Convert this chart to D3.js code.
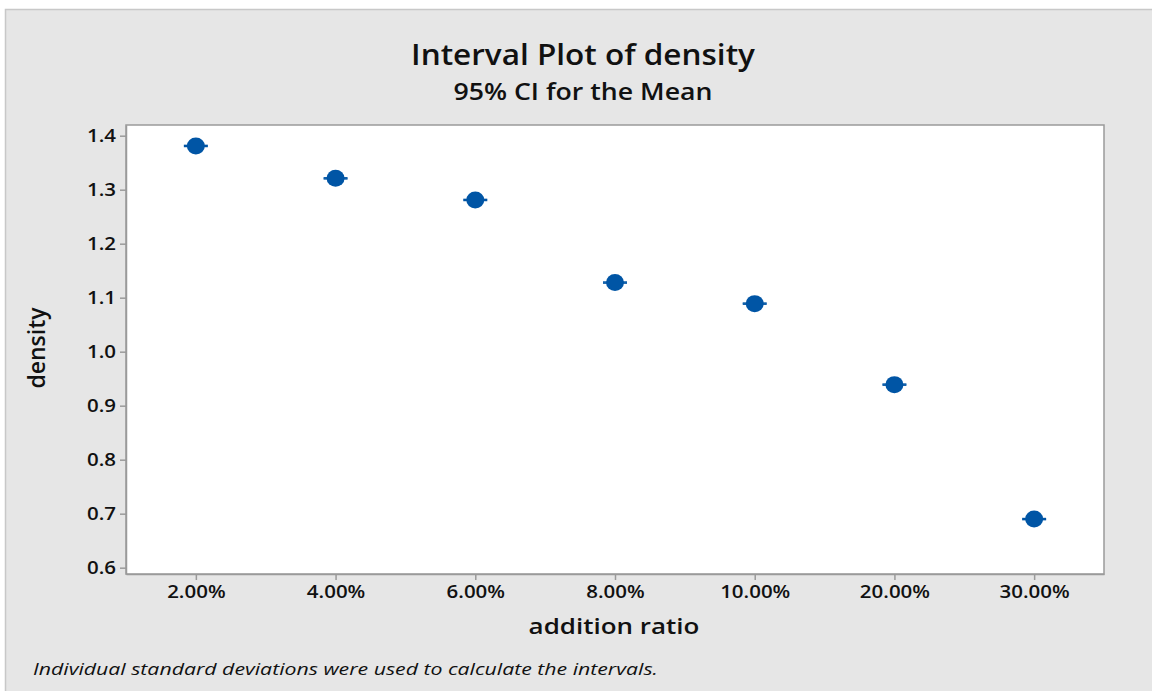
<!DOCTYPE html>
<html><head><meta charset="utf-8">
<script src="https://cdn.jsdelivr.net/npm/d3@7"></script>
<style>body{margin:0;background:#fff}svg{display:block}</style>
</head><body>
<svg id="c" width="1152" height="691"></svg>
<script>
const categories = ["2.00%","4.00%","6.00%","8.00%","10.00%","20.00%","30.00%"];
const means = [1.381, 1.321, 1.281, 1.128, 1.089, 0.939, 0.690];
const ciHalf = [0.001, 0.001, 0.001, 0.001, 0.001, 0.001, 0.001];
const yTicks = [0.6, 0.7, 0.8, 0.9, 1.0, 1.1, 1.2, 1.3, 1.4];

const W = 1152, H = 691;
const svg = d3.select("#c");
const font = "'Open Sans','Noto Sans',sans-serif";
const plot = {l:126, t:125, r:1104, b:574};
const blue = "#0055a5", axisCol = "#9a9a9a";

function stretch(sel, f){
  sel.each(function(){
    const len = this.getComputedTextLength();
    d3.select(this).attr("textLength", len*f).attr("lengthAdjust","spacingAndGlyphs");
  });
}

svg.append("rect").attr("x",5.5).attr("y",9.5).attr("width",W).attr("height",H)
  .attr("fill","#e6e6e6").attr("stroke","#c8c8c8").attr("stroke-width",1.5);

const x = d3.scalePoint().domain(categories).range([plot.l, plot.r]).padding(0.5);
const y = d3.scaleLinear().domain([0.5883, 1.4198]).range([plot.b, plot.t]);

svg.append("rect").attr("x",plot.l).attr("y",plot.t).attr("width",plot.r-plot.l).attr("height",plot.b-plot.t)
  .attr("fill","#fff").attr("stroke",axisCol).attr("stroke-width",1.5);

const yAxis = svg.append("g").attr("transform",`translate(${plot.l},0)`)
  .call(d3.axisLeft(y).tickValues(yTicks).tickFormat(d3.format(".1f")).tickSize(6).tickSizeOuter(0).tickPadding(4));
const xAxis = svg.append("g").attr("transform",`translate(0,${plot.b})`)
  .call(d3.axisBottom(x).tickSize(6).tickSizeOuter(0).tickPadding(6));
[yAxis,xAxis].forEach(g=>{
  g.select(".domain").attr("stroke",axisCol).attr("stroke-width",1.5);
  g.selectAll(".tick line").attr("stroke",axisCol).attr("stroke-width",1.5);
  g.selectAll(".tick text").attr("fill","#111").attr("font-family",font)
    .attr("font-size",17.5).attr("font-weight",600);
  stretch(g.selectAll(".tick text"), 1.17);
});
yAxis.selectAll(".tick text").attr("dy","0.35em");

const g = svg.append("g");
categories.forEach((c,i)=>{
  const cx = x(c);
  const lo = y(means[i]-ciHalf[i]), hi = y(means[i]+ciHalf[i]);
  g.append("line").attr("x1",cx).attr("x2",cx).attr("y1",lo).attr("y2",hi).attr("stroke",blue).attr("stroke-width",1.5);
  [lo,hi].forEach(yy=>g.append("line").attr("x1",cx-12).attr("x2",cx+12).attr("y1",yy).attr("y2",yy)
    .attr("stroke",blue).attr("stroke-width",1.5));
  g.append("ellipse").attr("cx",cx).attr("cy",y(means[i])).attr("rx",9).attr("ry",8.5).attr("fill",blue);
});

const t1 = svg.append("text").attr("x",583).attr("y",65).attr("text-anchor","middle")
  .attr("font-family",font).attr("font-size",28).attr("font-weight",600).attr("fill","#111")
  .text("Interval Plot of density");
stretch(t1, 1.125);
const t2 = svg.append("text").attr("x",583).attr("y",100).attr("text-anchor","middle")
  .attr("font-family",font).attr("font-size",23).attr("font-weight",600).attr("fill","#111")
  .text("95% CI for the Mean");
stretch(t2, 1.16);
const t3 = svg.append("text").attr("transform","translate(45,348) rotate(-90)").attr("text-anchor","middle")
  .attr("font-family",font).attr("font-size",23).attr("font-weight",600).attr("fill","#111")
  .text("density");
const t4 = svg.append("text").attr("x",614).attr("y",634).attr("text-anchor","middle")
  .attr("font-family",font).attr("font-size",22).attr("font-weight",600).attr("fill","#111")
  .text("addition ratio");
stretch(t4, 1.18);
const t5 = svg.append("text").attr("x",33).attr("y",675)
  .attr("font-family",font).attr("font-size",17).attr("font-style","italic").attr("fill","#111")
  .text("Individual standard deviations were used to calculate the intervals.");
stretch(t5, 1.25);
</script>
</body></html>
